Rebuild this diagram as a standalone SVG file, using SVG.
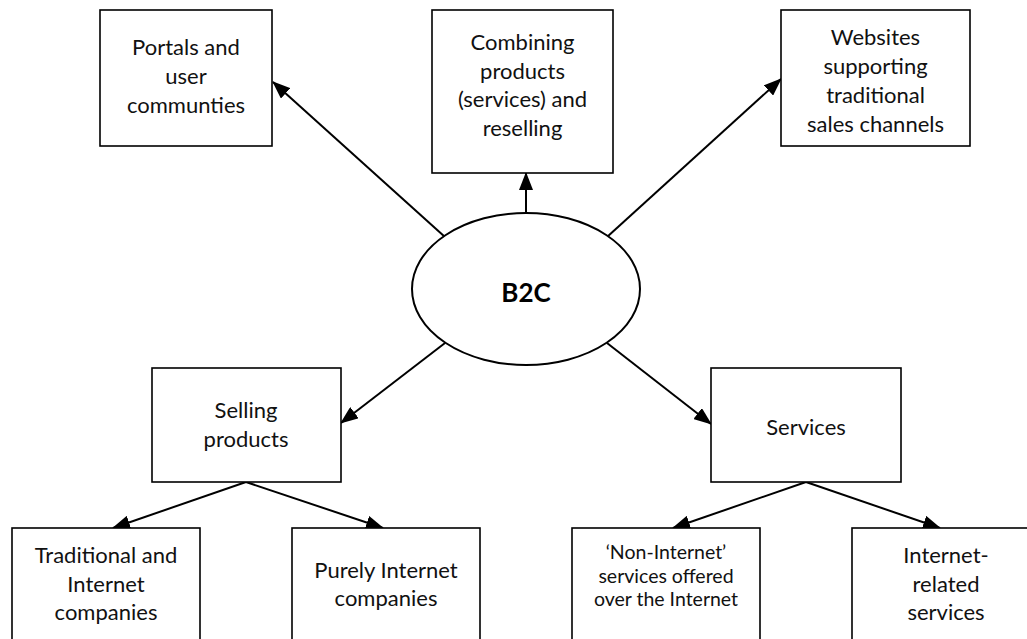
<svg xmlns="http://www.w3.org/2000/svg" width="1027" height="639" viewBox="0 0 1027 639">
<style>
.box{fill:#fff;stroke:#000;stroke-width:1.6}
.t{font-family:Lato,"Open Sans","Liberation Sans",sans-serif;font-size:22px;fill:#111;text-anchor:middle}
.s{font-size:19.5px}
.b{font-family:Lato,"Open Sans","Liberation Sans",sans-serif;font-size:26px;font-weight:bold;fill:#000;text-anchor:middle}
.c{stroke:#000;stroke-width:2;fill:none;marker-end:url(#ah)}
</style>
<defs>
<marker id="ah" markerUnits="userSpaceOnUse" markerWidth="18" markerHeight="14" refX="17" refY="7" orient="auto">
<path d="M0,0 L18,7 L0,14 Z" fill="#000"/>
</marker>
</defs>
<rect width="1027" height="639" fill="#fff"/>
<g id="connectors">
<line class="c" x1="445" y1="237" x2="273" y2="82"/>
<line class="c" x1="526" y1="213" x2="526" y2="173"/>
<line class="c" x1="607" y1="237" x2="781" y2="79"/>
<line class="c" x1="445" y1="343" x2="341" y2="423"/>
<line class="c" x1="607" y1="343" x2="711" y2="424"/>
<line class="c" x1="246" y1="482" x2="113" y2="528"/>
<line class="c" x1="246" y1="482" x2="383" y2="528"/>
<line class="c" x1="806" y1="482" x2="673" y2="528"/>
<line class="c" x1="806" y1="482" x2="940" y2="528"/>
</g>
<g id="b2c">
<ellipse cx="526" cy="289" rx="114" ry="76" fill="#fff" stroke="#000" stroke-width="2"/>
<text class="b" x="526" y="302">B2C</text>
</g>
<g id="portals">
<rect class="box" x="100" y="10" width="172" height="136"/>
<text class="t" x="186" y="55">Portals and</text>
<text class="t" x="186" y="84">user</text>
<text class="t" x="186" y="113">communties</text>
</g>
<g id="combining">
<rect class="box" x="432" y="10" width="181" height="163"/>
<text class="t" x="522.5" y="50">Combining</text>
<text class="t" x="522.5" y="78.5">products</text>
<text class="t" x="522.5" y="107">(services) and</text>
<text class="t" x="522.5" y="135.5">reselling</text>
</g>
<g id="websites">
<rect class="box" x="781" y="10" width="189" height="136"/>
<text class="t" x="875.5" y="45">Websites</text>
<text class="t" x="875.5" y="74">supporting</text>
<text class="t" x="875.5" y="103">traditional</text>
<text class="t" x="875.5" y="132">sales channels</text>
</g>
<g id="selling">
<rect class="box" x="152" y="368" width="189" height="114"/>
<text class="t" x="246" y="418">Selling</text>
<text class="t" x="246" y="447">products</text>
</g>
<g id="services">
<rect class="box" x="711" y="368" width="190" height="114"/>
<text class="t" x="806" y="435">Services</text>
</g>
<g id="traditional">
<rect class="box" x="12" y="528" width="188" height="130"/>
<text class="t" x="106" y="563">Traditional and</text>
<text class="t" x="106" y="591.5">Internet</text>
<text class="t" x="106" y="620">companies</text>
</g>
<g id="purely">
<rect class="box" x="292" y="528" width="188" height="130"/>
<text class="t" x="386" y="578">Purely Internet</text>
<text class="t" x="386" y="606">companies</text>
</g>
<g id="noninternet">
<rect class="box" x="572" y="528" width="188" height="130"/>
<text class="t s" x="666" y="559">‘Non-Internet’</text>
<text class="t s" x="666" y="582.5">services offered</text>
<text class="t s" x="666" y="606">over the Internet</text>
</g>
<g id="internetrelated">
<rect class="box" x="852" y="528" width="189" height="130"/>
<text class="t" x="946" y="563">Internet-</text>
<text class="t" x="946" y="592">related</text>
<text class="t" x="946" y="620">services</text>
</g>
</svg>
